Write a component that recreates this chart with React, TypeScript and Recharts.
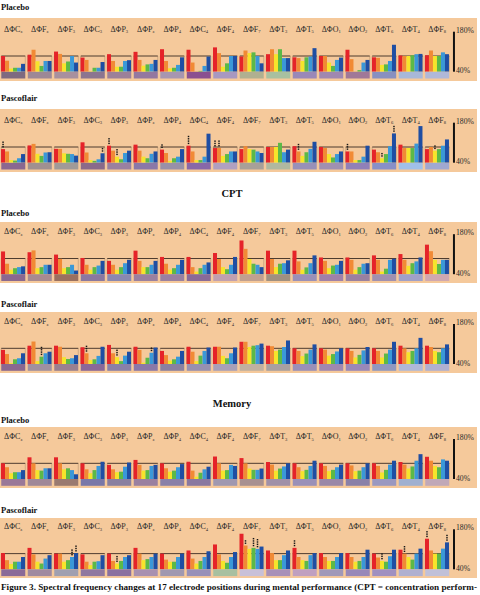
import React from 'react';
import { BarChart, Bar, XAxis, YAxis, ReferenceArea } from 'recharts';

const electrodes = ['C|z', 'F|z', 'F|3', 'C|3', 'P|3', 'P|z', 'P|4', 'C|4', 'F|4', 'F|7', 'T|3', 'T|5', 'O|1', 'O|2', 'T|6', 'T|4', 'F|8'];
const bands = ['delta', 'theta', 'alpha1', 'alpha2', 'beta1', 'beta2'];
const bandColors = ['#e52329', '#f18a35', '#f6e42b', '#5cb947', '#3a98d8', '#1f4ea3'];
const scaleTicks = [40, 180];
const PEACH = '#f5c99b';

// Test 1 - Placebo
const p1Values = [
  [100, 82, 52, 55, 55, 70], [105, 124, 80, 62, 81, 81], [117, 108, 72, 79, 100, 75], [94, 85, 42, 55, 55, 77],
  [107, 81, 59, 59, 81, 84], [116, 85, 63, 68, 70, 85], [126, 81, 53, 55, 66, 95], [124, 75, 41, 43, 62, 98],
  [133, 111, 59, 72, 100, 100], [98, 121, 111, 114, 100, 72], [107, 126, 107, 126, 92, 92], [95, 92, 81, 95, 98, 130],
  [100, 100, 75, 62, 85, 94], [124, 88, 41, 46, 75, 85], [95, 93, 66, 68, 81, 143], [102, 100, 100, 103, 107, 108],
  [103, 121, 100, 100, 114, 107],
];
const p1Base = ['#7e6a80', '#9d8896', '#a8909e', '#8c7590', '#9c8099', '#9478a0', '#a796b0', '#8a5090', '#a898c0',
  '#b0b090', '#a8c0a0', '#9a88b8', '#a088b0', '#a07898', '#8890c0', '#a8b8d8', '#b0b8d8'];
// Test 1 - Pascoflair
const p2Values = [
  [92, 83, 50, 48, 57, 73], [106, 112, 74, 66, 79, 80], [93, 93, 76, 74, 73, 67], [118, 79, 50, 47, 53, 76],
  [105, 86, 63, 53, 77, 86], [109, 86, 63, 57, 74, 83], [90, 77, 47, 57, 63, 92], [105, 83, 50, 50, 63, 151],
  [96, 96, 66, 73, 83, 83], [92, 103, 92, 90, 83, 77], [100, 100, 100, 116, 80, 90], [103, 83, 66, 80, 93, 120],
  [100, 96, 73, 60, 73, 83], [83, 83, 50, 50, 63, 105], [90, 80, 57, 73, 103, 152], [109, 96, 96, 96, 113, 180],
  [92, 100, 86, 92, 105, 129],
];
const p2Base = ['#8a6890', '#a09090', '#a09a98', '#8a6a8a', '#9a80a0', '#8a78a8', '#9890a8', '#8868a8', '#b0a0c0',
  '#a8a098', '#b0b8a0', '#9890b8', '#a090b0', '#9080b8', '#8890c8', '#a0c0e8', '#a0a8d0'];
const p2Sig = [[0, 0, 3], [3, 5, 2], [4, 0, 3], [4, 2, 3], [6, 0, 2], [7, 0, 4], [8, 0, 3], [8, 1, 3], [11, 1, 3],
  [13, 0, 3], [14, 5, 3], [14, 2, 2], [16, 2, 2]];
// CPT - Placebo
const p3Values = [
  [127, 80, 57, 63, 67, 70], [124, 131, 63, 67, 76, 76], [115, 99, 63, 67, 76, 54], [102, 76, 57, 67, 73, 91],
  [91, 76, 57, 67, 82, 95], [130, 91, 67, 67, 76, 91], [106, 80, 57, 63, 76, 95], [106, 67, 50, 63, 76, 85],
  [121, 98, 67, 59, 76, 106], [169, 137, 98, 80, 76, 67], [130, 98, 67, 80, 82, 93], [130, 89, 57, 66, 82, 112],
  [104, 91, 63, 73, 76, 91], [104, 95, 57, 67, 80, 82], [112, 95, 50, 61, 95, 99], [117, 95, 72, 82, 89, 104],
  [153, 128, 95, 79, 95, 95],
];
const p3Base = ['#8a6890', '#a88a90', '#9a7060', '#8a78a0', '#8a88b0', '#9a80a0', '#9a80a0', '#8a6a98', '#c0a0b0',
  '#c0a090', '#a09080', '#9a90b8', '#a080a8', '#9a80a0', '#a090b0', '#a0a0c8', '#d0a8b0'];
// CPT - Pascoflair
const p4Values = [
  [94, 78, 43, 58, 62, 81], [110, 126, 51, 68, 81, 87], [110, 106, 66, 59, 62, 74], [104, 81, 55, 58, 71, 106],
  [113, 81, 66, 51, 72, 87], [106, 94, 45, 64, 83, 103], [90, 74, 53, 58, 68, 90], [106, 87, 51, 72, 90, 103],
  [106, 106, 71, 62, 81, 103], [125, 125, 105, 110, 112, 118], [110, 108, 90, 95, 105, 130], [100, 90, 70, 80, 95, 115],
  [100, 95, 72, 78, 88, 100], [100, 90, 65, 75, 92, 105], [100, 90, 65, 80, 95, 125], [110, 100, 85, 90, 100, 140],
  [110, 105, 90, 85, 100, 115],
];
const p4Base = ['#8a6890', '#a090a0', '#9a8090', '#8a6898', '#8a80a8', '#8a78a8', '#8a80a0', '#9890b0', '#a8a0b8',
  '#c0b0a0', '#a8a0a0', '#9a90b8', '#a088b0', '#9a88b8', '#9098c0', '#b0b8d8', '#b0b0d0'];
const p4Sig = [[1, 3, 4], [3, 1, 3], [4, 2, 3], [5, 4, 2]];
// Memory - Placebo
const p5Values = [
  [100, 85, 62, 66, 66, 74], [123, 100, 74, 72, 81, 81], [123, 100, 77, 81, 74, 58], [100, 77, 62, 74, 90, 106],
  [94, 77, 66, 68, 87, 103], [113, 94, 72, 74, 90, 94], [100, 81, 68, 72, 85, 97], [106, 72, 49, 64, 77, 87],
  [126, 100, 72, 74, 94, 90], [120, 100, 80, 75, 75, 80], [105, 95, 72, 80, 88, 100], [100, 85, 70, 75, 90, 110],
  [100, 90, 70, 75, 85, 95], [100, 92, 70, 72, 85, 100], [100, 90, 65, 75, 95, 110], [105, 95, 80, 88, 110, 135],
  [125, 110, 90, 85, 115, 110],
];
const p5Base = ['#9a7898', '#a08898', '#9a7a70', '#7a78a8', '#8a80a0', '#9a80a0', '#8a80a8', '#8a78a0', '#a098b0',
  '#a89090', '#a090a8', '#9a90b8', '#9a88a8', '#8a80a8', '#9a98c0', '#a0b0d0', '#c0a8b8'];
// Memory - Pascoflair
const p6Values = [
  [102, 75, 60, 69, 69, 87], [122, 97, 69, 62, 81, 94], [100, 100, 69, 75, 87, 102], [97, 69, 56, 69, 71, 94],
  [100, 72, 62, 72, 87, 94], [122, 100, 75, 79, 87, 100], [100, 77, 69, 69, 87, 100], [112, 81, 62, 72, 87, 109],
  [135, 97, 72, 65, 87, 106], [176, 131, 118, 122, 118, 127], [112, 102, 75, 75, 94, 112], [122, 87, 75, 72, 94, 102],
  [102, 87, 72, 72, 87, 102], [102, 87, 69, 72, 87, 115], [100, 85, 72, 69, 90, 115], [115, 100, 87, 77, 100, 119],
  [157, 112, 100, 100, 119, 143],
];
const p6Base = ['#8a6a98', '#a08aa0', '#a0a0b0', '#9078a0', '#8a70a0', '#a890b0', '#a098b0', '#9890b8', '#a8c0a0',
  '#c8c0d8', '#a890b8', '#c0a0c0', '#a098b8', '#9888b8', '#a090c0', '#b0b0d0', '#c0c0d8'];
const p6Sig = [[2, 4, 3], [2, 5, 3], [4, 2, 3], [9, 1, 2], [9, 3, 4], [9, 4, 4], [11, 0, 3], [14, 2, 3], [15, 1, 3],
  [16, 0, 3], [16, 5, 3]];

const SERIF = '"Liberation Serif", "Times New Roman", serif';
const BAR_W = 4;

const ElectrodeTick = (props: any) => {
  const { x, y, payload } = props;
  const [main, sub] = String(payload.value).split('|');
  return (
    <text x={x} y={y} textAnchor="middle" fontFamily={SERIF} fontSize={8} fill="#2a2a2a">
      {'ΔΦ' + main}
      <tspan fontSize={4.6} dy={1.5}>{sub}</tspan>
    </text>
  );
};

const ScaleTick = (props: any) => {
  const { x, y, payload } = props;
  const off = payload.value === 180 ? -2.3 : 1.5;
  return (
    <text x={x} y={y + off} fontFamily={SERIF} fontSize={7.7} fill="#2a2a2a">{payload.value}%</text>
  );
};

const GroupFrame = (props: any) => {
  const { x, y, width, height, color } = props;
  const w = BAR_W * 6;
  const x0 = x + (width - w) / 2;
  return (
    <g>
      <rect x={x0} y={y + height} width={w} height={6.8} fill={color} />
      <line x1={x0} x2={x0} y1={y} y2={y + height} stroke="#a88868" strokeWidth={0.5} />
      <line x1={x0 + w} x2={x0 + w} y1={y} y2={y + height} stroke="#a88868" strokeWidth={0.5} />
      <line x1={x0} x2={x0 + w} y1={y} y2={y} stroke="#3b2b22" strokeWidth={0.9} />
    </g>
  );
};

const makeShape = (bi: number, sig?: number[][]) => (props: any) => {
  const { x, y, width, height, fill, index } = props;
  const top = Math.min(y, y + height);
  const h = Math.abs(height);
  const m = sig ? sig.find((s) => s[0] === index && s[1] === bi) : undefined;
  const dots: any[] = [];
  if (m) {
    for (let k = 0; k < m[2]; k++) {
      dots.push(<rect key={k} x={x + width / 2 - 0.75} y={top - 3 - k * 2.3} width={1.5} height={1.4} fill="#151515" />);
    }
  }
  return (
    <g>
      <rect x={x} y={top} width={width} height={h} fill={fill} />
      {dots}
    </g>
  );
};

function Panel({ top, base, values, baseColors, sig }: any) {
  const chartH = base + 9 - top;
  const plotTop = base - 40 - top;
  const data = electrodes.map((e, i) => {
    const row: any = { name: e };
    bands.forEach((b, bi) => { row[b] = [40, values[i][bi]]; });
    return row;
  });
  return (
    <div style={{ position: 'absolute', left: 0, top, width: 477, height: chartH, background: PEACH }}>
      <BarChart width={480} height={chartH} data={data} barSize={BAR_W} barGap={0}
        margin={{ top: plotTop - 1, right: 0, left: 0, bottom: chartH - plotTop - 40 }}>
        <XAxis dataKey="name" orientation="top" height={1} axisLine={false} tickLine={false} tickSize={0}
          tickMargin={0} interval={0} padding={{ left: 0, right: 3.5 }} tick={<ElectrodeTick />} />
        <YAxis orientation="right" domain={[40, 193]} ticks={scaleTicks} width={26} allowDataOverflow
          axisLine={{ stroke: '#111', strokeWidth: 2 }} tickLine={false} tickSize={0} tickMargin={2} tick={<ScaleTick />} />
        {data.map((d: any, i: number) => (
          <ReferenceArea key={d.name} x1={d.name} x2={d.name} y1={40} y2={100}
            shape={(p: any) => <GroupFrame {...p} color={baseColors[i]} />} />
        ))}
        {bands.map((b, bi) => (
          <Bar key={b} dataKey={b} fill={bandColors[bi]} isAnimationActive={false} shape={makeShape(bi, sig)} />
        ))}
      </BarChart>
    </div>
  );
}

const Heading = ({ text, top, left, size, center }: any) => (
  <div style={{ position: 'absolute', top, left: center ? 0 : left, width: center ? 464 : undefined,
    textAlign: center ? 'center' : 'left', fontFamily: SERIF, fontWeight: 'bold', fontSize: size,
    lineHeight: `${size}px`, whiteSpace: 'nowrap', color: '#111' }}>{text}</div>
);

export default function App() {
  return (
    <div style={{ position: 'absolute', left: 0, top: 0, width: 480, height: 595, background: '#fff', overflow: 'hidden' }}>
      <Heading text="Placebo" top={3} left={1} size={8.5} />
      <Panel top={18} base={71.7} values={p1Values} baseColors={p1Base} />
      <Heading text="Pascoflair" top={94} left={1} size={8.5} />
      <Panel top={109} base={162.7} values={p2Values} baseColors={p2Base} sig={p2Sig} />
      <Heading text="CPT" top={189} size={10.5} center />
      <Heading text="Placebo" top={209} left={1} size={8.5} />
      <Panel top={222} base={274.2} values={p3Values} baseColors={p3Base} />
      <Heading text="Pascoflair" top={300} left={1} size={8.5} />
      <Panel top={312} base={364} values={p4Values} baseColors={p4Base} sig={p4Sig} />
      <Heading text="Memory" top={399} size={10.5} center />
      <Heading text="Placebo" top={416} left={1} size={8.5} />
      <Panel top={427} base={479} values={p5Values} baseColors={p5Base} />
      <Heading text="Pascoflair" top={506} left={1} size={8.5} />
      <Panel top={518} base={569.3} values={p6Values} baseColors={p6Base} sig={p6Sig} />
      <svg style={{ position: 'absolute', left: 0, top: 578 }} width={480} height={17}>
        <text x={1} y={12} textLength={476} lengthAdjust="spacingAndGlyphs" fontFamily={SERIF} fontWeight="bold"
          fontSize={8.7} fill="#111">
          Figure 3. Spectral frequency changes at 17 electrode positions during mental performance (CPT = concentration perform-
        </text>
      </svg>
    </div>
  );
}
